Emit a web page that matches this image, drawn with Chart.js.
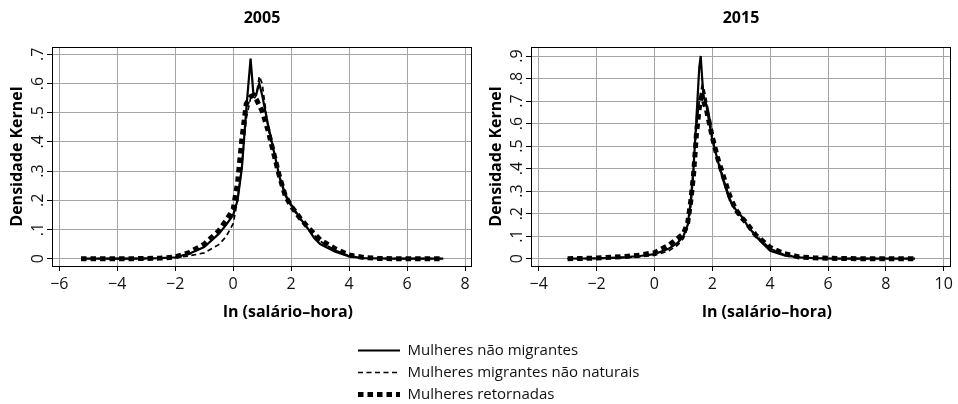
<!DOCTYPE html>
<html><head><meta charset="utf-8">
<script src="https://cdn.jsdelivr.net/npm/chart.js@4.4.1/dist/chart.umd.min.js"></script>
<style>
html,body{margin:0;padding:0;background:#fff;overflow:hidden;width:958px;height:404px;}
.box{position:absolute;}
</style></head><body>
<div class="box" style="left:0;top:0;width:479px;height:330px"><canvas id="c1"></canvas></div>
<div class="box" style="left:479px;top:0;width:479px;height:330px"><canvas id="c2"></canvas></div>
<div class="box" style="left:351px;top:336px;width:340px;height:80px"><canvas id="c3"></canvas></div>
<script>
// ---------- data ----------
const seriesNames = ['Mulheres não migrantes', 'Mulheres migrantes não naturais', 'Mulheres retornadas'];
const panelTitles = ['2005', '2015'];
const xAxisTitle = 'ln (salário–hora)';
const yAxisTitle = 'Densidade Kernel';

const x2005 = [-5.25,-4.5,-4,-3.5,-3,-2.5,-2,-1.5,-1,-0.5,-0.25,0,0.15,0.3,0.45,0.6,0.7,0.8,0.9,1.0,1.2,1.4,1.6,1.8,2.0,2.3,2.6,2.8,3.0,3.5,4.0,4.5,5.0,5.5,6,6.5,7.25];
const naoMigr2005 = [0,0,0,0,0.001,0.002,0.005,0.018,0.04,0.085,0.115,0.15,0.2,0.31,0.51,0.685,0.56,0.565,0.6,0.56,0.46,0.37,0.28,0.22,0.185,0.14,0.1,0.07,0.05,0.025,0.008,0.002,0.001,0,0,0,0];
const migr2005    = [0,0,0,0,0,0.001,0.003,0.01,0.02,0.048,0.075,0.12,0.2,0.32,0.48,0.55,0.545,0.56,0.625,0.6,0.45,0.35,0.275,0.215,0.18,0.135,0.1,0.08,0.06,0.03,0.01,0.003,0.001,0,0,0,0];
const retorn2005  = [0,0,0,0,0.001,0.002,0.006,0.022,0.05,0.095,0.13,0.17,0.26,0.41,0.53,0.555,0.56,0.545,0.525,0.505,0.44,0.36,0.28,0.215,0.18,0.14,0.105,0.085,0.065,0.035,0.013,0.004,0.001,0,0,0,0];

const x2015 = [-3,-2.5,-2,-1.5,-1,-0.5,0,0.5,0.8,1.0,1.15,1.25,1.35,1.45,1.55,1.6,1.65,1.7,1.8,1.9,2.0,2.2,2.4,2.6,2.8,3.0,3.2,3.5,4.0,4.5,5.0,5.5,6,7,8,9];
const naoMigr2015 = [0,0.001,0.002,0.004,0.007,0.012,0.02,0.045,0.07,0.1,0.15,0.25,0.4,0.62,0.85,0.9,0.8,0.72,0.68,0.6,0.53,0.43,0.34,0.26,0.22,0.19,0.15,0.1,0.035,0.015,0.006,0.003,0.001,0,0,0];
const migr2015    = [0,0,0.001,0.003,0.005,0.009,0.015,0.035,0.06,0.09,0.14,0.22,0.38,0.58,0.7,0.74,0.77,0.76,0.7,0.63,0.55,0.44,0.35,0.27,0.21,0.18,0.15,0.105,0.045,0.018,0.007,0.003,0.001,0,0,0];
const retorn2015  = [0,0.001,0.003,0.006,0.01,0.016,0.027,0.06,0.09,0.11,0.16,0.25,0.37,0.55,0.67,0.71,0.72,0.7,0.66,0.6,0.54,0.44,0.36,0.28,0.22,0.185,0.155,0.105,0.05,0.022,0.008,0.004,0.002,0,0,0];

const xTickValues = [-6,-4,-2,0,2,4,6,8,10];
const xTickLabels = ['\u22126','\u22124','\u22122','0','2','4','6','8','10'];
const yTickValues = [0,0.1,0.2,0.3,0.4,0.5,0.6,0.7,0.8,0.9];
const yTickLabels = ['0','.1','.2','.3','.4','.5','.6','.7','.8','.9'];

// ---------- styles ----------
const FONT = '"Open Sans", "Noto Sans", sans-serif';
Chart.defaults.font.family = FONT;
Chart.defaults.color = '#111';
const styles = [
  {borderWidth: 2.2, borderDash: []},
  {borderWidth: 1.7, borderDash: [5, 3.5]},
  {borderWidth: 5, borderDash: [5.5, 4]}
];

function lookup(vals, labels, v) {
  for (let i = 0; i < vals.length; i++) if (Math.abs(vals[i] - v) < 1e-6) return labels[i];
  return '';
}

function makeDatasets(xs, series) {
  return series.map((ys, k) => ({
    label: seriesNames[k],
    data: xs.map((x, i) => ({x: x, y: ys[i]})),
    borderColor: '#000',
    backgroundColor: '#000',
    borderWidth: styles[k].borderWidth,
    borderDash: styles[k].borderDash,
    borderCapStyle: 'butt',
    borderJoinStyle: 'miter',
    pointRadius: 0,
    tension: 0,
    fill: false
  }));
}

const framePlugin = {
  id: 'frame',
  afterDatasetsDraw(chart) {
    const a = chart.chartArea, ctx = chart.ctx;
    ctx.save();
    ctx.strokeStyle = '#000';
    ctx.lineWidth = 1;
    ctx.setLineDash([]);
    ctx.strokeRect(Math.round(a.left) + 0.5, Math.round(a.top) + 0.5, Math.round(a.right - a.left) - 1, Math.round(a.bottom - a.top));
    ctx.restore();
  }
};

// x-axis title (placed slightly right of the plot centre, as in the original)
const xTitlePlugin = {
  id: 'xTitle',
  afterDraw(chart) {
    const a = chart.chartArea, ctx = chart.ctx;
    ctx.save();
    ctx.fillStyle = '#000';
    ctx.font = 'bold 16px ' + FONT;
    ctx.textAlign = 'center';
    ctx.textBaseline = 'middle';
    ctx.fillText(xAxisTitle, (a.left + a.right) / 2 + 26, a.bottom + 46);
    ctx.restore();
  }
};

function makeChart(id, title, xs, series, xmin, xmax, ymin, ymax) {
  return new Chart(document.getElementById(id), {
    type: 'line',
    data: {datasets: makeDatasets(xs, series)},
    plugins: [framePlugin, xTitlePlugin],
    options: {
      responsive: true,
      maintainAspectRatio: false,
      animation: false,
      layout: {padding: {left: 0, right: 7, top: 0, bottom: 0}},
      plugins: {
        legend: {display: false},
        tooltip: {enabled: false},
        title: {display: true, fullSize: false, text: title, color: '#000', font: {size: 16, weight: 'bold', lineHeight: 1.2}, padding: {top: 9, bottom: 18.8}}
      },
      scales: {
        x: {
          type: 'linear', min: xmin, max: xmax,
          afterFit(s) { s.height = 64; },
          ticks: {stepSize: 2, includeBounds: false, autoSkip: false, maxRotation: 0, minRotation: 0, padding: 4,
                  color: '#111', font: {size: 16},
                  callback: v => lookup(xTickValues, xTickLabels, v)},
          grid: {color: '#a4a4a4', lineWidth: 1, tickLength: 5, tickColor: '#000', drawTicks: true},
          border: {display: false},
          title: {display: false}
        },
        y: {
          type: 'linear', min: ymin, max: ymax,
          afterFit(s) { s.width = 52; },
          ticks: {stepSize: 0.1, includeBounds: false, autoSkip: false, minRotation: 90, maxRotation: 90,
                  crossAlign: 'center', padding: 2, color: '#111', font: {size: 16},
                  callback: v => lookup(yTickValues, yTickLabels, v)},
          grid: {color: '#a4a4a4', lineWidth: 1, tickLength: 5, tickColor: '#000', drawTicks: true},
          border: {display: false},
          title: {display: true, text: yAxisTitle, color: '#000', font: {size: 16, weight: 'bold'}, padding: {top: 8, bottom: 0}}
        }
      }
    }
  });
}

makeChart('c1', panelTitles[0], x2005, [naoMigr2005, migr2005, retorn2005], -6.252, 8.24, -0.025, 0.725);
makeChart('c2', panelTitles[1], x2015, [naoMigr2015, migr2015, retorn2015], -4.266, 10.25, -0.0324, 0.94);

// legend-only chart
new Chart(document.getElementById('c3'), {
  type: 'line',
  data: {datasets: seriesNames.map((n, k) => ({
    label: n, data: [], borderColor: '#000', backgroundColor: '#000',
    borderWidth: styles[k].borderWidth, borderDash: styles[k].borderDash, borderCapStyle: 'butt'
  }))},
  options: {
    responsive: true, maintainAspectRatio: false, animation: false,
    layout: {padding: 0},
    scales: {x: {display: false}, y: {display: false}},
    plugins: {
      tooltip: {enabled: false},
      legend: {
        position: 'left', align: 'start', maxWidth: 340,
        labels: {
          usePointStyle: true, pointStyle: 'line', pointStyleWidth: 42, padding: 7,
          color: '#111', font: {size: 15},
          generateLabels(chart) {
            return chart.data.datasets.map((ds, i) => ({
              text: ds.label, fillStyle: '#000', strokeStyle: '#000',
              lineWidth: ds.borderWidth, lineDash: ds.borderDash, lineCap: 'butt',
              pointStyle: 'line', hidden: false, datasetIndex: i, fontColor: '#111'
            }));
          }
        }
      }
    }
  }
});
</script>
</body></html>
